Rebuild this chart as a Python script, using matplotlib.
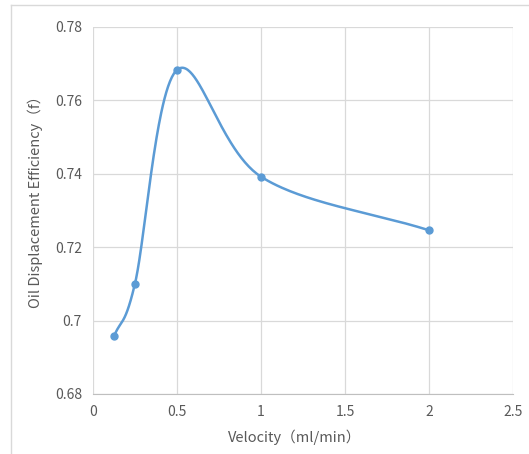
import numpy as np
import matplotlib
matplotlib.use('Agg')
import matplotlib.pyplot as plt
from matplotlib.lines import Line2D

plt.rcParams['font.family'] = ['Noto Sans CJK SC', 'DejaVu Sans']

# data
velocity = [0.125, 0.25, 0.5, 1.0, 2.0]
efficiency = [0.6957, 0.7101, 0.7683, 0.7392, 0.7246]
xticks = [0, 0.5, 1, 1.5, 2, 2.5]
yticks = [0.68, 0.70, 0.72, 0.74, 0.76, 0.78]
ytick_labels = ['0.68', '0.7', '0.72', '0.74', '0.76', '0.78']

xmin, xmax = 0, 2.5
ymin, ymax = 0.68, 0.78

fig = plt.figure(figsize=(5.29, 4.54), dpi=100)
ax = fig.add_axes([0.1758, 0.1322, 0.794, 0.8084])


# Excel style smoothed line (Catmull-Rom as Bezier), done in screen-like units
def smooth_line(xs, ys, w=420.0, h=367.0, n=60):
    px = (np.array(xs) - xmin) / (xmax - xmin) * w
    py = (np.array(ys) - ymin) / (ymax - ymin) * h
    pts = np.column_stack([px, py])
    out = []
    for i in range(len(pts) - 1):
        p1 = pts[i]
        p2 = pts[i + 1]
        # end tangents follow the chord, inner ones are Catmull-Rom
        d1 = (pts[i + 1] - pts[i - 1]) / 6.0 if i > 0 else (p2 - p1) / 3.0
        d2 = (pts[i + 2] - pts[i]) / 6.0 if i + 2 < len(pts) else (p2 - p1) / 3.0
        c1 = p1 + d1
        c2 = p2 - d2
        t = np.linspace(0, 1, n)[:, None]
        seg = ((1 - t) ** 3) * p1 + 3 * ((1 - t) ** 2) * t * c1 + 3 * (1 - t) * t ** 2 * c2 + t ** 3 * p2
        out.append(seg)
    out = np.vstack(out)
    sx = out[:, 0] / w * (xmax - xmin) + xmin
    sy = out[:, 1] / h * (ymax - ymin) + ymin
    return sx, sy


sx, sy = smooth_line(velocity, efficiency)
line_color = '#5b9bd5'
ax.plot(sx, sy, color=line_color, linewidth=1.8, zorder=3)
ax.plot(velocity, efficiency, 'o', color=line_color, markersize=5, zorder=4)

ax.set_xlim(xmin, xmax)
ax.set_ylim(ymin, ymax)
ax.set_xticks(xticks)
ax.set_xticklabels([f'{v:g}' for v in xticks])
ax.set_yticks(yticks)
ax.set_yticklabels(ytick_labels)
ax.grid(True, color='#d9d9d9', linewidth=0.9)
ax.set_axisbelow(True)

for side in ['top', 'right', 'left']:
    ax.spines[side].set_visible(False)
ax.spines['bottom'].set_color('#bfbfbf')
ax.tick_params(length=0, colors='#595959', labelsize=10, pad=8)

ax.set_xlabel('Velocity（ml/min）', color='#595959', fontsize=10.5)
ax.set_ylabel('Oil Displacement Efficiency（f）', color='#595959', fontsize=10.5)
ax.xaxis.set_label_coords(0.48, -0.097)
ax.yaxis.set_label_coords(-0.12, 0.534)

# chart frame edges
fig.add_artist(Line2D([11 / 529, 11 / 529], [0, 1 - 5 / 454], color='#d9d9d9', linewidth=1))
fig.add_artist(Line2D([11 / 529, 1], [1 - 5 / 454, 1 - 5 / 454], color='#d9d9d9', linewidth=1))

fig.savefig('out.png', dpi=100, facecolor='white')
